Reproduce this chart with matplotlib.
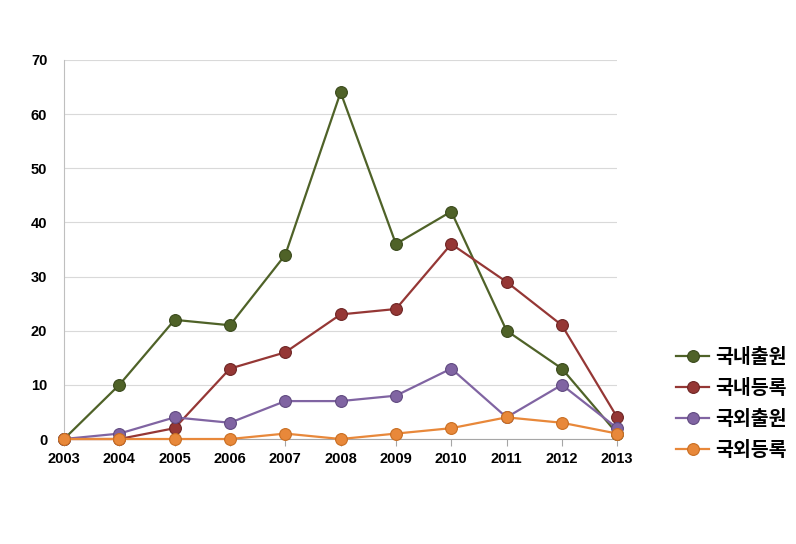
import matplotlib.pyplot as plt

plt.rcParams['font.family'] = ['Noto Sans CJK KR', 'DejaVu Sans']

years = [2003, 2004, 2005, 2006, 2007, 2008, 2009, 2010, 2011, 2012, 2013]
dom_app = [0, 10, 22, 21, 34, 64, 36, 42, 20, 13, 1]
dom_reg = [0, 0, 2, 13, 16, 23, 24, 36, 29, 21, 4]
for_app = [0, 1, 4, 3, 7, 7, 8, 13, 4, 10, 2]
for_reg = [0, 0, 0, 0, 1, 0, 1, 2, 4, 3, 1]
labels = ['국내출원', '국내등록', '국외출원', '국외등록']

series = [
    (dom_app, '#4f6228', '#3a4a1c'),
    (dom_reg, '#953735', '#6e2524'),
    (for_app, '#8064a2', '#604a80'),
    (for_reg, '#e8883a', '#c96e22'),
]

fig = plt.figure(figsize=(7.96, 5.44), dpi=100)
ax = fig.add_axes([0.0804, 0.193, 0.695, 0.697])

for (vals, col, edge), lab in zip(series, labels):
    ax.plot(years, vals, color=col, linewidth=1.6, marker='o', markersize=8.5,
            markerfacecolor=col, markeredgecolor=edge, markeredgewidth=0.8,
            label=lab, zorder=3)

ax.set_xlim(2003, 2013)
ax.set_ylim(0, 70)
ax.set_yticks(range(0, 71, 10))
ax.set_xticks(years)
ax.set_xticklabels([str(y) for y in years])
ax.grid(axis='y', color='#d9d9d9', linewidth=0.8)
ax.set_axisbelow(True)
for s in ['top', 'right']:
    ax.spines[s].set_visible(False)
ax.spines['left'].set_color('#bfbfbf')
ax.spines['bottom'].set_color('#a6a6a6')
ax.tick_params(axis='y', length=0, pad=12, labelsize=10.5)
ax.tick_params(axis='x', length=5, color='#a6a6a6', pad=4, labelsize=10.5)
for t in ax.get_xticklabels() + ax.get_yticklabels():
    t.set_fontweight('bold')
    t.set_family('Liberation Sans')
ax.margins(x=0)
for ln in ax.lines:
    ln.set_clip_on(False)

leg = ax.legend(loc='center left', bbox_to_anchor=(1.075, 0.092), frameon=False,
                prop={'size': 14, 'weight': 'bold'}, handlelength=1.7,
                handletextpad=0.3, labelspacing=0.62)

fig.savefig('out.png', dpi=100)
